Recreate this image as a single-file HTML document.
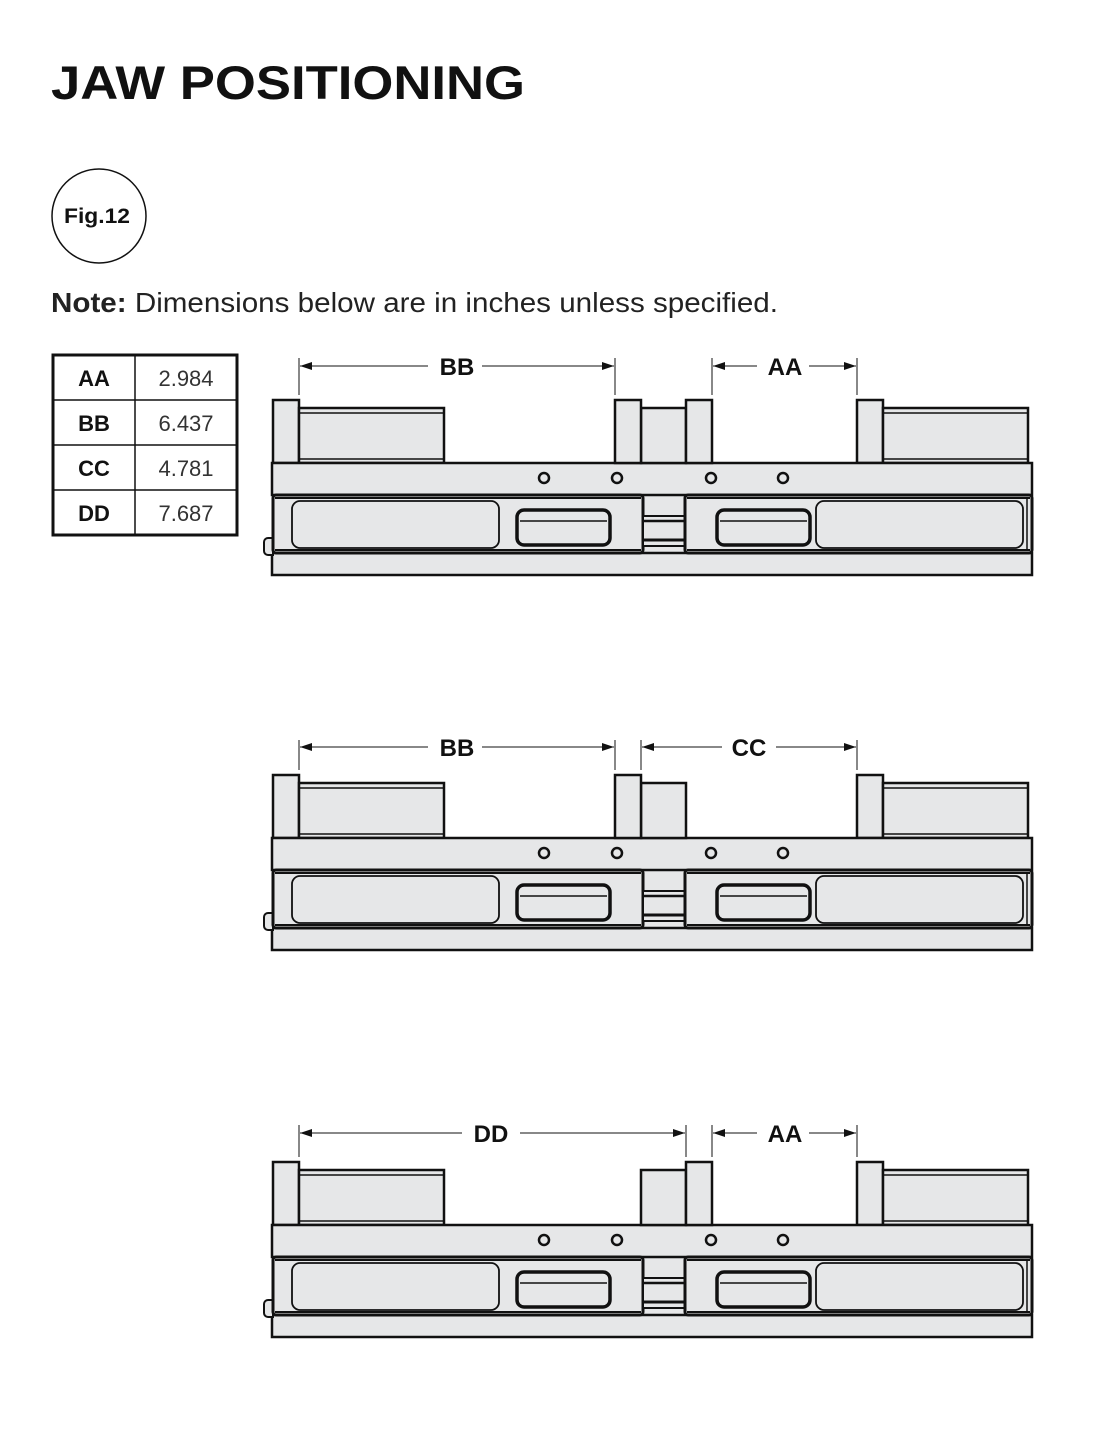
<!DOCTYPE html>
<html><head><meta charset="utf-8"><style>
html,body{margin:0;padding:0;background:#fff;}
body{width:1094px;height:1440px;position:relative;overflow:hidden;font-family:"Liberation Sans",sans-serif;}
</style></head><body>
<svg width="1094" height="1440" viewBox="0 0 1094 1440" xmlns="http://www.w3.org/2000/svg" style="position:absolute;left:0;top:0">
<defs>
<marker id="ar" markerWidth="12" markerHeight="8" refX="12" refY="4" orient="auto" markerUnits="userSpaceOnUse">
<path d="M0,0 L12,4 L0,8 z" fill="#111"/></marker>
<g id="body" stroke="#111" fill="#e6e7e8">
<rect x="273" y="400" width="26" height="63" stroke-width="2.5"/>
<rect x="299" y="408" width="145" height="55" stroke-width="2.5"/>
<line x1="299" y1="413" x2="444" y2="413" stroke-width="1.5"/>
<line x1="299" y1="459" x2="444" y2="459" stroke-width="1.5"/>
<rect x="857" y="400" width="26" height="63" stroke-width="2.5"/>
<rect x="883" y="408" width="145" height="55" stroke-width="2.5"/>
<line x1="883" y1="413" x2="1028" y2="413" stroke-width="1.5"/>
<line x1="883" y1="459" x2="1028" y2="459" stroke-width="1.5"/>
<rect x="640" y="494" width="48" height="60" stroke="none"/>
<rect x="272" y="463" width="760" height="32" stroke-width="2.5"/>
<circle cx="544" cy="478" r="5" fill="none" stroke-width="2.5"/>
<circle cx="617" cy="478" r="5" fill="none" stroke-width="2.5"/>
<circle cx="711" cy="478" r="5" fill="none" stroke-width="2.5"/>
<circle cx="783" cy="478" r="5" fill="none" stroke-width="2.5"/>
<rect x="272" y="553" width="760" height="22" stroke-width="2.5"/>
<path d="M273,538 h-5 a4,4 0 0 0 -4,4 v9 a4,4 0 0 0 4,4 h5 z" stroke-width="2"/>
<rect x="273" y="495" width="370" height="58" rx="3" stroke-width="3"/>
<line x1="275" y1="498" x2="641" y2="498" stroke-width="2"/>
<line x1="275" y1="550" x2="641" y2="550" stroke-width="2"/>
<rect x="292" y="501" width="207" height="47" rx="8" stroke-width="1.8"/>
<rect x="517" y="510" width="93" height="35" rx="7" stroke-width="3.5"/>
<line x1="520" y1="521" x2="607" y2="521" stroke-width="1.5"/>
<rect x="643" y="516" width="42" height="30" stroke-width="2"/>
<line x1="643" y1="521" x2="685" y2="521" stroke-width="2.5"/>
<line x1="643" y1="540" x2="685" y2="540" stroke-width="3"/>
<rect x="685" y="495" width="347" height="58" rx="3" stroke-width="3"/>
<line x1="687" y1="498" x2="1030" y2="498" stroke-width="2"/>
<line x1="687" y1="550" x2="1030" y2="550" stroke-width="2"/>
<rect x="717" y="510" width="93" height="35" rx="7" stroke-width="3.5"/>
<line x1="720" y1="521" x2="807" y2="521" stroke-width="1.5"/>
<rect x="816" y="501" width="207" height="47" rx="8" stroke-width="1.8"/>
<line x1="1027" y1="497" x2="1027" y2="551" stroke-width="1.5"/>
</g>
</defs>

<text x="51" y="99" font-family="Liberation Sans, sans-serif" font-weight="bold" font-size="47" fill="#111" textLength="474" lengthAdjust="spacingAndGlyphs">JAW POSITIONING</text>
<ellipse cx="99" cy="216" rx="47" ry="47" fill="none" stroke="#111" stroke-width="1.5"/>
<text x="97" y="223" text-anchor="middle" font-size="21" font-weight="bold" fill="#111" textLength="66" lengthAdjust="spacingAndGlyphs">Fig.12</text>
<text x="51" y="312" font-size="28" fill="#222" textLength="727" lengthAdjust="spacingAndGlyphs"><tspan font-weight="bold">Note:</tspan> Dimensions below are in inches unless specified.</text>

<g stroke="#111" fill="none">
<rect x="53" y="355" width="184" height="180" stroke-width="3"/>
<line x1="135" y1="355" x2="135" y2="535" stroke-width="1.5"/>
<line x1="53" y1="400" x2="237" y2="400" stroke-width="1.5"/>
<line x1="53" y1="445" x2="237" y2="445" stroke-width="1.5"/>
<line x1="53" y1="490" x2="237" y2="490" stroke-width="1.5"/>
</g>
<g font-size="22" fill="#111">
<text x="94" y="386" text-anchor="middle" font-weight="bold">AA</text>
<text x="94" y="431" text-anchor="middle" font-weight="bold">BB</text>
<text x="94" y="476" text-anchor="middle" font-weight="bold">CC</text>
<text x="94" y="521" text-anchor="middle" font-weight="bold">DD</text>
<text x="186" y="386" text-anchor="middle" fill="#333">2.984</text>
<text x="186" y="431" text-anchor="middle" fill="#333">6.437</text>
<text x="186" y="476" text-anchor="middle" fill="#333">4.781</text>
<text x="186" y="521" text-anchor="middle" fill="#333">7.687</text>
</g>

<use href="#body"/>
<g stroke="#111" fill="#e6e7e8" stroke-width="2.5">
<rect x="641" y="408" width="45" height="55"/>
<rect x="615" y="400" width="26" height="63"/>
<rect x="686" y="400" width="26" height="63"/>
</g>
<g stroke="#111" stroke-width="1">
<line x1="299" y1="358" x2="299" y2="395"/><line x1="615" y1="358" x2="615" y2="395"/>
<line x1="712" y1="358" x2="712" y2="395"/><line x1="857" y1="358" x2="857" y2="395"/>
<line x1="428" y1="366" x2="300" y2="366" marker-end="url(#ar)"/>
<line x1="482" y1="366" x2="614" y2="366" marker-end="url(#ar)"/>
<line x1="757" y1="366" x2="713" y2="366" marker-end="url(#ar)"/>
<line x1="809" y1="366" x2="856" y2="366" marker-end="url(#ar)"/>
</g>
<text x="457" y="375" text-anchor="middle" font-weight="bold" font-size="24" fill="#111">BB</text>
<text x="785" y="375" text-anchor="middle" font-weight="bold" font-size="24" fill="#111">AA</text>

<use href="#body" transform="translate(0,375)"/>
<g stroke="#111" fill="#e6e7e8" stroke-width="2.5">
<rect x="641" y="783" width="45" height="55"/>
<rect x="615" y="775" width="26" height="63"/>
</g>
<g stroke="#111" stroke-width="1">
<line x1="299" y1="740" x2="299" y2="770"/><line x1="615" y1="740" x2="615" y2="770"/>
<line x1="641" y1="740" x2="641" y2="770"/><line x1="857" y1="740" x2="857" y2="770"/>
<line x1="428" y1="747" x2="300" y2="747" marker-end="url(#ar)"/>
<line x1="482" y1="747" x2="614" y2="747" marker-end="url(#ar)"/>
<line x1="722" y1="747" x2="642" y2="747" marker-end="url(#ar)"/>
<line x1="776" y1="747" x2="856" y2="747" marker-end="url(#ar)"/>
</g>
<text x="457" y="756" text-anchor="middle" font-weight="bold" font-size="24" fill="#111">BB</text>
<text x="749" y="756" text-anchor="middle" font-weight="bold" font-size="24" fill="#111">CC</text>

<use href="#body" transform="translate(0,762)"/>
<g stroke="#111" fill="#e6e7e8" stroke-width="2.5">
<rect x="641" y="1170" width="45" height="55"/>
<rect x="686" y="1162" width="26" height="63"/>
</g>
<g stroke="#111" stroke-width="1">
<line x1="299" y1="1125" x2="299" y2="1157"/><line x1="686" y1="1125" x2="686" y2="1157"/>
<line x1="712" y1="1125" x2="712" y2="1157"/><line x1="857" y1="1125" x2="857" y2="1157"/>
<line x1="462" y1="1133" x2="300" y2="1133" marker-end="url(#ar)"/>
<line x1="520" y1="1133" x2="685" y2="1133" marker-end="url(#ar)"/>
<line x1="757" y1="1133" x2="713" y2="1133" marker-end="url(#ar)"/>
<line x1="809" y1="1133" x2="856" y2="1133" marker-end="url(#ar)"/>
</g>
<text x="491" y="1142" text-anchor="middle" font-weight="bold" font-size="24" fill="#111">DD</text>
<text x="785" y="1142" text-anchor="middle" font-weight="bold" font-size="24" fill="#111">AA</text>
</svg>
</body></html>
